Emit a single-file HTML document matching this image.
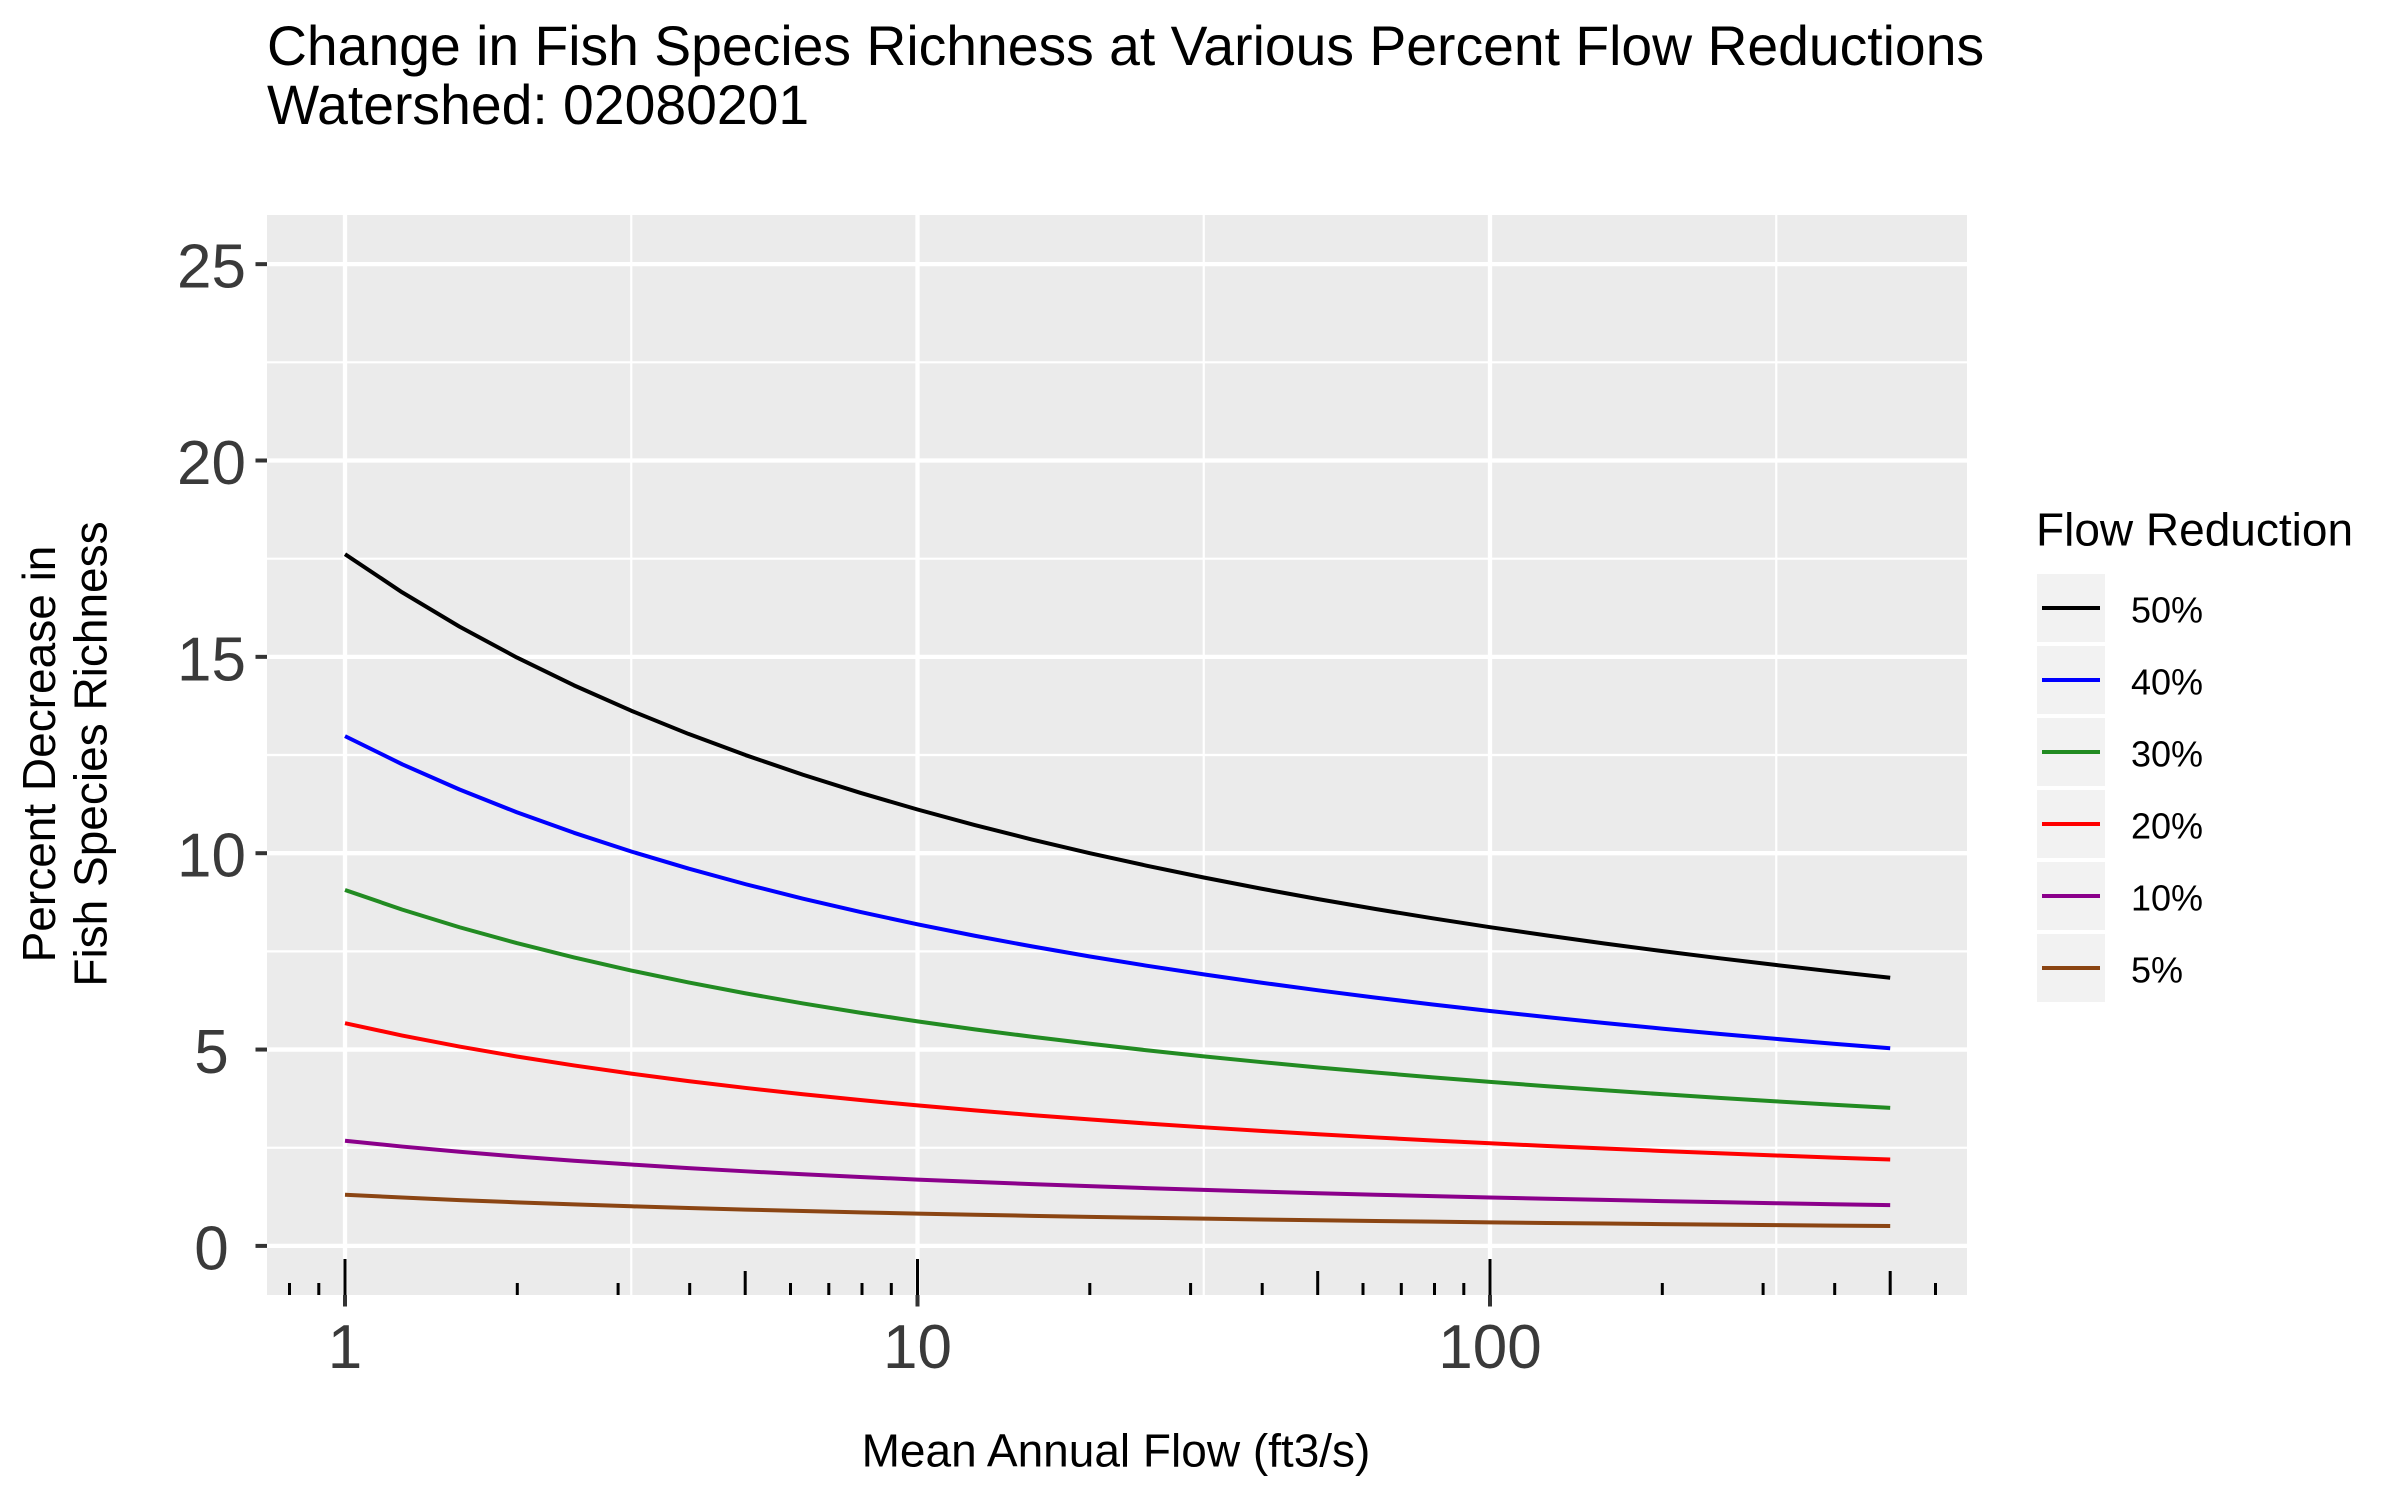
<!DOCTYPE html>
<html>
<head>
<meta charset="utf-8">
<style>
  html, body { margin: 0; padding: 0; background: #ffffff; }
  svg { display: block; }
  text { font-family: "Liberation Sans", Arial, sans-serif; }
</style>
</head>
<body>
<svg width="2400" height="1500" viewBox="0 0 2400 1500" xmlns="http://www.w3.org/2000/svg">
  <rect x="0" y="0" width="2400" height="1500" fill="#ffffff"/>

  <!-- Title -->
  <text x="267" y="65" font-size="55.3" fill="#000000">Change in Fish Species Richness at Various Percent Flow Reductions</text>
  <text x="267" y="124" font-size="55.3" fill="#000000">Watershed: 02080201</text>

  <!-- Panel background -->
  <rect x="267" y="215" width="1700" height="1080" fill="#EBEBEB"/>

  <!-- Minor gridlines -->
  <g stroke="#ffffff" stroke-width="2.2" fill="none">
    <line x1="267" y1="1147.73" x2="1967" y2="1147.73"/>
    <line x1="267" y1="951.38" x2="1967" y2="951.38"/>
    <line x1="267" y1="755.03" x2="1967" y2="755.03"/>
    <line x1="267" y1="558.68" x2="1967" y2="558.68"/>
    <line x1="267" y1="362.33" x2="1967" y2="362.33"/>
    <line x1="631.25" y1="215" x2="631.25" y2="1295"/>
    <line x1="1203.75" y1="215" x2="1203.75" y2="1295"/>
    <line x1="1776.25" y1="215" x2="1776.25" y2="1295"/>
  </g>
  <!-- Major gridlines -->
  <g stroke="#ffffff" stroke-width="4.3" fill="none">
    <line x1="267" y1="1245.9" x2="1967" y2="1245.9"/>
    <line x1="267" y1="1049.55" x2="1967" y2="1049.55"/>
    <line x1="267" y1="853.2" x2="1967" y2="853.2"/>
    <line x1="267" y1="656.85" x2="1967" y2="656.85"/>
    <line x1="267" y1="460.5" x2="1967" y2="460.5"/>
    <line x1="267" y1="264.15" x2="1967" y2="264.15"/>
    <line x1="345" y1="215" x2="345" y2="1295"/>
    <line x1="917.5" y1="215" x2="917.5" y2="1295"/>
    <line x1="1490" y1="215" x2="1490" y2="1295"/>
  </g>

  <!-- Data lines -->
  <g fill="none" stroke-width="4" stroke-linejoin="round" stroke-linecap="butt">
    <polyline stroke="#000000" points="345,554.16 402.25,592.40 459.5,626.62 516.75,657.46 574,685.36 631.25,710.73 688.5,733.92 745.75,755.18 803,774.72 860.25,792.80 917.5,809.51 974.75,825.05 1032,839.51 1089.25,853.03 1146.5,865.66 1203.75,877.50 1261,888.64 1318.25,899.12 1375.5,909.00 1432.75,918.33 1490,927.18 1547.25,935.54 1604.5,943.49 1661.75,951.03 1719,958.18 1776.25,965.04 1833.5,971.55 1890.2,977.71"/>
    <polyline stroke="#0000FF" points="345,736.11 402.25,764.29 459.5,789.51 516.75,812.24 574,832.80 631.25,851.49 688.5,868.59 745.75,884.25 803,898.66 860.25,911.98 917.5,924.29 974.75,935.75 1032,946.40 1089.25,956.37 1146.5,965.68 1203.75,974.40 1261,982.61 1318.25,990.33 1375.5,997.61 1432.75,1004.49 1490,1011.01 1547.25,1017.17 1604.5,1023.03 1661.75,1028.59 1719,1033.86 1776.25,1038.92 1833.5,1043.71 1890.2,1048.25"/>
    <polyline stroke="#228B22" points="345,889.96 402.25,909.63 459.5,927.24 516.75,943.11 574,957.46 631.25,970.52 688.5,982.45 745.75,993.39 803,1003.45 860.25,1012.75 917.5,1021.35 974.75,1029.34 1032,1036.78 1089.25,1043.60 1146.5,1050.24 1203.75,1056.33 1261,1062.06 1318.25,1067.45 1375.5,1072.54 1432.75,1077.34 1490,1081.89 1547.25,1086.20 1604.5,1090.28 1661.75,1094.17 1719,1097.86 1776.25,1101.39 1833.5,1104.73 1890.2,1107.90"/>
    <polyline stroke="#FF0000" points="345,1023.21 402.25,1035.53 459.5,1046.54 516.75,1056.47 574,1065.45 631.25,1073.62 688.5,1081.09 745.75,1087.93 803,1094.22 860.25,1100.04 917.5,1105.42 974.75,1110.42 1032,1115.07 1089.25,1119.34 1146.5,1123.49 1203.75,1127.31 1261,1130.89 1318.25,1134.26 1375.5,1137.44 1432.75,1140.45 1490,1143.30 1547.25,1145.99 1604.5,1148.55 1661.75,1150.97 1719,1153.28 1776.25,1155.48 1833.5,1157.58 1890.2,1159.56"/>
    <polyline stroke="#8B008B" points="345,1140.75 402.25,1146.57 459.5,1151.77 516.75,1156.46 574,1160.70 631.25,1164.55 688.5,1168.08 745.75,1171.31 803,1174.28 860.25,1177.03 917.5,1179.57 974.75,1181.93 1032,1184.13 1089.25,1186.18 1146.5,1188.10 1203.75,1189.90 1261,1191.60 1318.25,1193.19 1375.5,1194.69 1432.75,1196.11 1490,1197.45 1547.25,1198.72 1604.5,1199.93 1661.75,1201.08 1719,1202.17 1776.25,1203.21 1833.5,1204.20 1890.2,1205.13"/>
    <polyline stroke="#8B4513" points="345,1194.71 402.25,1197.54 459.5,1200.08 516.75,1202.36 574,1204.42 631.25,1206.30 688.5,1208.02 745.75,1209.59 803,1211.04 860.25,1212.38 917.5,1213.61 974.75,1214.76 1032,1215.83 1089.25,1216.83 1146.5,1217.77 1203.75,1218.64 1261,1219.47 1318.25,1220.24 1375.5,1220.97 1432.75,1221.66 1490,1222.32 1547.25,1222.94 1604.5,1223.53 1661.75,1224.08 1719,1224.61 1776.25,1225.12 1833.5,1225.60 1890.2,1226.05"/>
  </g>

  <!-- Log ticks (bottom) -->
  <g stroke="#000000" stroke-width="3">
    <line x1="289.5" y1="1283" x2="289.5" y2="1295"/>
    <line x1="318.8" y1="1283" x2="318.8" y2="1295"/>
    <line x1="517.3" y1="1283" x2="517.3" y2="1295"/>
    <line x1="618.1" y1="1283" x2="618.1" y2="1295"/>
    <line x1="689.7" y1="1283" x2="689.7" y2="1295"/>
    <line x1="790.5" y1="1283" x2="790.5" y2="1295"/>
    <line x1="828.8" y1="1283" x2="828.8" y2="1295"/>
    <line x1="862.0" y1="1283" x2="862.0" y2="1295"/>
    <line x1="891.3" y1="1283" x2="891.3" y2="1295"/>
    <line x1="1089.8" y1="1283" x2="1089.8" y2="1295"/>
    <line x1="1190.6" y1="1283" x2="1190.6" y2="1295"/>
    <line x1="1262.2" y1="1283" x2="1262.2" y2="1295"/>
    <line x1="1363.0" y1="1283" x2="1363.0" y2="1295"/>
    <line x1="1401.3" y1="1283" x2="1401.3" y2="1295"/>
    <line x1="1434.5" y1="1283" x2="1434.5" y2="1295"/>
    <line x1="1463.8" y1="1283" x2="1463.8" y2="1295"/>
    <line x1="1662.3" y1="1283" x2="1662.3" y2="1295"/>
    <line x1="1763.1" y1="1283" x2="1763.1" y2="1295"/>
    <line x1="1834.7" y1="1283" x2="1834.7" y2="1295"/>
    <line x1="1935.5" y1="1283" x2="1935.5" y2="1295"/>
    <line x1="745.2" y1="1271" x2="745.2" y2="1295"/>
    <line x1="1317.7" y1="1271" x2="1317.7" y2="1295"/>
    <line x1="1890.2" y1="1271" x2="1890.2" y2="1295"/>
    <line x1="345" y1="1259" x2="345" y2="1295"/>
    <line x1="917.5" y1="1259" x2="917.5" y2="1295"/>
    <line x1="1490" y1="1259" x2="1490" y2="1295"/>
  </g>

  <!-- Axis ticks -->
  <g stroke="#333333" stroke-width="4">
    <line x1="255.5" y1="1245.9" x2="267" y2="1245.9"/>
    <line x1="255.5" y1="1049.55" x2="267" y2="1049.55"/>
    <line x1="255.5" y1="853.2" x2="267" y2="853.2"/>
    <line x1="255.5" y1="656.85" x2="267" y2="656.85"/>
    <line x1="255.5" y1="460.5" x2="267" y2="460.5"/>
    <line x1="255.5" y1="264.15" x2="267" y2="264.15"/>
    <line x1="345" y1="1295" x2="345" y2="1306.5"/>
    <line x1="917.5" y1="1295" x2="917.5" y2="1306.5"/>
    <line x1="1490" y1="1295" x2="1490" y2="1306.5"/>
  </g>

  <!-- Y axis tick labels -->
  <g font-size="62" fill="#3a3a3a" text-anchor="middle">
    <text x="211.5" y="1269.4">0</text>
    <text x="211.5" y="1073.05">5</text>
    <text x="211.5" y="876.7">10</text>
    <text x="211.5" y="680.35">15</text>
    <text x="211.5" y="484">20</text>
    <text x="211.5" y="287.65">25</text>
  </g>

  <!-- X axis tick labels -->
  <g font-size="62" fill="#3a3a3a" text-anchor="middle">
    <text x="345" y="1368">1</text>
    <text x="917.5" y="1368">10</text>
    <text x="1490" y="1368">100</text>
  </g>

  <!-- Axis titles -->
  <text x="1116" y="1466.7" font-size="46" fill="#000000" text-anchor="middle">Mean Annual Flow (ft3/s)</text>
  <text transform="translate(55,754) rotate(-90)" font-size="46" fill="#000000" text-anchor="middle">Percent Decrease in</text>
  <text transform="translate(106.7,754) rotate(-90)" font-size="46" fill="#000000" text-anchor="middle">Fish Species Richness</text>

  <!-- Legend -->
  <text x="2036" y="545.7" font-size="46" fill="#000000">Flow Reduction</text>
  <g fill="#F2F2F2">
    <rect x="2037" y="574" width="68" height="68"/>
    <rect x="2037" y="646" width="68" height="68"/>
    <rect x="2037" y="718" width="68" height="68"/>
    <rect x="2037" y="790" width="68" height="68"/>
    <rect x="2037" y="862" width="68" height="68"/>
    <rect x="2037" y="934" width="68" height="68"/>
  </g>
  <g stroke-width="4">
    <line x1="2042" y1="608" x2="2100" y2="608" stroke="#000000"/>
    <line x1="2042" y1="680" x2="2100" y2="680" stroke="#0000FF"/>
    <line x1="2042" y1="752" x2="2100" y2="752" stroke="#228B22"/>
    <line x1="2042" y1="824" x2="2100" y2="824" stroke="#FF0000"/>
    <line x1="2042" y1="896" x2="2100" y2="896" stroke="#8B008B"/>
    <line x1="2042" y1="968" x2="2100" y2="968" stroke="#8B4513"/>
  </g>
  <g font-size="36" fill="#000000">
    <text x="2131" y="622.5">50%</text>
    <text x="2131" y="694.5">40%</text>
    <text x="2131" y="766.5">30%</text>
    <text x="2131" y="838.5">20%</text>
    <text x="2131" y="910.5">10%</text>
    <text x="2131" y="982.5">5%</text>
  </g>
</svg>
</body>
</html>
